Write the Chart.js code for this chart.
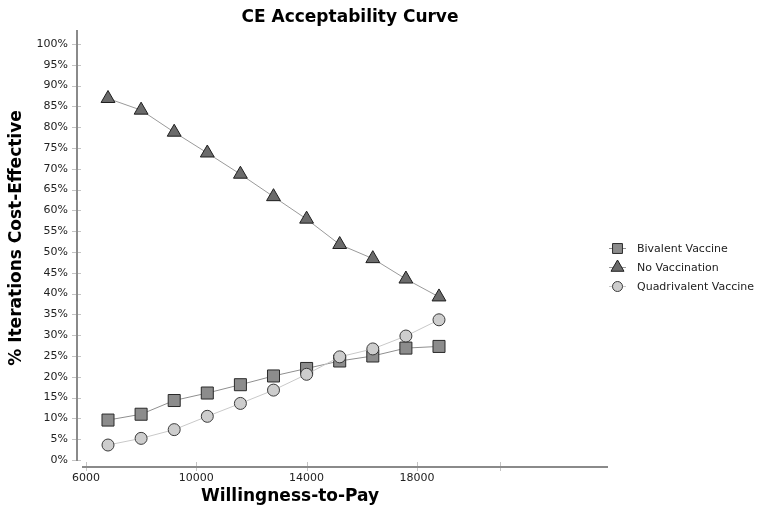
<!DOCTYPE html>
<html>
<head>
<meta charset="utf-8">
<title>CE Acceptability Curve</title>
<script src="https://cdn.jsdelivr.net/npm/chart.js@4"></script>
<style>
  html, body { margin: 0; padding: 0; background: #fff; }
  #wrap { width: 760px; height: 514px; }
</style>
</head>
<body>
<div id="wrap"><canvas id="ceac" width="760" height="514"></canvas></div>
<script>
// values
const wtp = [6800, 8000, 9200, 10400, 11600, 12800, 14000, 15200, 16400, 17600, 18800];
const bivalent = [9.6, 11.0, 14.3, 16.1, 18.1, 20.2, 22.0, 23.8, 25.0, 26.9, 27.3];
const noVaccination = [86.9, 84.1, 78.8, 73.8, 68.7, 63.3, 57.9, 51.8, 48.4, 43.5, 39.2];
const quadrivalent = [3.6, 5.2, 7.3, 10.5, 13.6, 16.8, 20.6, 24.8, 26.7, 29.8, 33.7];
const seriesNames = ['Bivalent Vaccine', 'No Vaccination', 'Quadrivalent Vaccine'];
const xTicks = [6000, 10000, 14000, 18000, 21000];
const xTickLabels = ['6000', '10000', '14000', '18000', ''];
const yTicks = [0, 5, 10, 15, 20, 25, 30, 35, 40, 45, 50, 55, 60, 65, 70, 75, 80, 85, 90, 95, 100];

const FONT = "'DejaVu Sans', Verdana, sans-serif";
Chart.defaults.font.family = FONT;
Chart.defaults.font.size = 11;
Chart.defaults.color = '#222';

function pts(ys) {
  return wtp.map((x, i) => ({ x: x, y: ys[i] }));
}

// axis lines, tick marks, titles and the legend
const decorations = {
  id: 'decorations',
  afterDraw(chart) {
    const ctx = chart.ctx;
    const area = chart.chartArea;
    const xs = chart.scales.x, ys = chart.scales.y;
    ctx.save();

    // tick marks
    ctx.strokeStyle = '#c4c4c4';
    ctx.lineWidth = 1;
    ys.ticks.forEach(t => {
      const y = Math.round(ys.getPixelForValue(t.value)) + 0.5;
      ctx.beginPath(); ctx.moveTo(area.left - 5, y); ctx.lineTo(area.left + 4, y); ctx.stroke();
    });
    xs.ticks.forEach(t => {
      const x = Math.round(xs.getPixelForValue(t.value)) + 0.5;
      ctx.beginPath(); ctx.moveTo(x, area.bottom - 5); ctx.lineTo(x, area.bottom + 4); ctx.stroke();
    });

    // axis lines
    ctx.strokeStyle = '#8a8a8a';
    ctx.lineWidth = 2;
    ctx.beginPath();
    ctx.moveTo(area.left, area.top);
    ctx.lineTo(area.left, ys.getPixelForValue(0) + 1);
    ctx.stroke();
    ctx.beginPath();
    ctx.moveTo(area.left + 5, area.bottom);
    ctx.lineTo(area.right, area.bottom);
    ctx.stroke();

    // titles
    ctx.fillStyle = '#000';
    ctx.font = 'bold 17px ' + FONT;
    ctx.textAlign = 'center';
    ctx.textBaseline = 'middle';
    ctx.fillText('CE Acceptability Curve', 350, 18);
    ctx.fillText('Willingness-to-Pay', 290, 497);
    ctx.save();
    ctx.translate(17, 238);
    ctx.rotate(-Math.PI / 2);
    ctx.fillText('% Iterations Cost-Effective', 0, 0);
    ctx.restore();

    // legend
    const rows = [248, 267, 286];
    const sizes = [7, 7.5, 5];
    chart.data.datasets.forEach((ds, i) => {
      const y = rows[i];
      ctx.strokeStyle = ds.borderColor;
      ctx.lineWidth = 1;
      ctx.beginPath(); ctx.moveTo(609, y + 0.5); ctx.lineTo(626, y + 0.5); ctx.stroke();
      ctx.fillStyle = ds.pointBackgroundColor;
      ctx.strokeStyle = ds.pointBorderColor;
      Chart.helpers.drawPoint(ctx, { pointStyle: ds.pointStyle, radius: sizes[i], borderWidth: 1, rotation: 0 }, 617.5, y + 0.5);
      ctx.fillStyle = '#222';
      ctx.font = '11px ' + FONT;
      ctx.textAlign = 'left';
      ctx.fillText(ds.label, 637, y + 1);
    });
    ctx.restore();
  }
};

new Chart(document.getElementById('ceac'), {
  type: 'line',
  data: {
    datasets: [{
      label: seriesNames[0],
      data: pts(bivalent),
      borderColor: '#8f8f8f',
      borderWidth: 1,
      pointStyle: 'rect',
      pointRadius: 8.5,
      pointBackgroundColor: '#8c8c8c',
      pointBorderColor: '#2a2a2a',
      pointBorderWidth: 1,
      order: 1
    }, {
      label: seriesNames[1],
      data: pts(noVaccination),
      borderColor: '#9a9a9a',
      borderWidth: 1,
      pointStyle: 'triangle',
      pointRadius: 8,
      pointBackgroundColor: '#6b6b6b',
      pointBorderColor: '#1e1e1e',
      pointBorderWidth: 1,
      order: 2
    }, {
      label: seriesNames[2],
      data: pts(quadrivalent),
      borderColor: '#c9c9c9',
      borderWidth: 1,
      pointStyle: 'circle',
      pointRadius: 6,
      pointBackgroundColor: '#cdcdcd',
      pointBorderColor: '#3a3a3a',
      pointBorderWidth: 1,
      order: 0
    }]
  },
  options: {
    responsive: false,
    animation: false,
    devicePixelRatio: 1,
    layout: { padding: { left: 0, top: 30, right: 152, bottom: 0 } },
    plugins: {
      legend: { display: false },
      title: { display: false },
      tooltip: { enabled: false }
    },
    scales: {
      x: {
        type: 'linear',
        min: 5676,
        max: 24927,
        grid: { display: false, drawTicks: false },
        border: { display: false },
        afterBuildTicks: s => { s.ticks = xTicks.map(v => ({ value: v })); },
        afterFit: s => { s.height = 47; },
        ticks: {
          padding: 5,
          autoSkip: false,
          maxRotation: 0,
          callback: (v, i) => xTickLabels[i]
        }
      },
      y: {
        min: -1.683,
        max: 103.365,
        grid: { display: false, drawTicks: false },
        border: { display: false },
        afterBuildTicks: s => { s.ticks = yTicks.map(v => ({ value: v })); },
        afterFit: s => { s.width = 77; },
        ticks: {
          padding: 9,
          autoSkip: false,
          callback: v => v + '%'
        }
      }
    }
  },
  plugins: [decorations]
});
</script>
</body>
</html>
